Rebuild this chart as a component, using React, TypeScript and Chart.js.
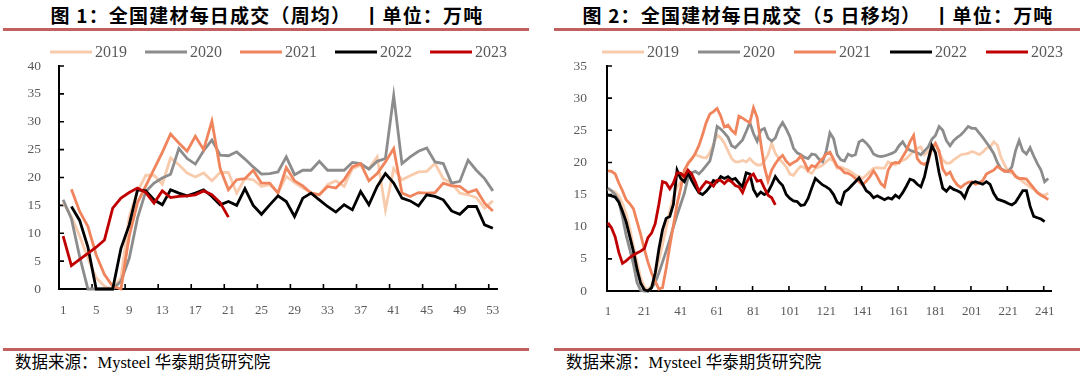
import React, { useEffect, useRef } from 'react';
import { Chart, registerables } from 'chart.js';

Chart.register(...registerables);

// ---------- shared ----------
const YEARS = ['2019', '2020', '2021', '2022', '2023'];
const COLORS = ['#f8cbad', '#8c8c8c', '#f0845c', '#000000', '#c00000'];

// ---------- Figure 1: weekly average (weeks 1..53) ----------
const WEEK_2019 = [15.5, 13.0, 9.5, 5.5, 2.0, 0.5, 0, 2.0, 13.0, 17.5, 20.4, 20.4, 18.8, 23.5, 22.3, 20.8, 20.1, 20.8, 19.4, 20.9, 20.9, 17.2, 19.8, 19.6, 18.4, 18.7, 17.3, 20.2, 19.1, 18.1, 17.3, 16.9, 18.7, 19.4, 18.4, 21.6, 22.2, 21.6, 23.7, 14.2, 21.6, 19.6, 20.3, 21.0, 21.1, 22.5, 19.8, 19.0, 17.2, 16.9, 16.4, 14.5, 15.8];
const WEEK_2020 = [16.0, 12.6, 5.8, 0, 0, 0, 0, 1.4, 5.5, 12.7, 17.5, 19.0, 19.9, 20.6, 25.2, 23.4, 22.4, 24.8, 26.7, 24.0, 23.9, 24.6, 23.3, 21.9, 20.6, 20.7, 21.0, 23.7, 20.5, 21.3, 21.3, 22.9, 21.3, 21.3, 21.3, 22.7, 22.5, 21.5, 22.9, 23.4, 34.7, 22.5, 23.7, 24.7, 25.3, 22.8, 22.5, 19.0, 19.3, 23.1, 21.3, 19.8, 17.6];
const WEEK_2021 = [null, 17.9, 13.9, 11.2, 6.1, 2.6, 0.5, 0, 9.5, 15.5, 18.5, 21.5, 24.5, 27.8, 26.2, 24.7, 27.4, 25.0, 30.1, 21.6, 17.8, 19.6, 19.8, 21.3, 19.0, 19.0, 17.2, 21.8, 19.4, 18.5, 17.2, 16.9, 18.4, 18.1, 19.6, 21.9, 22.5, 19.4, 20.7, 22.8, 25.2, 17.2, 16.6, 17.3, 17.2, 17.3, 19.0, 18.5, 18.4, 17.3, 17.8, 15.4, 14.0];
const WEEK_2022 = [null, 14.8, 12.3, 7.5, 0, 0, 0, 7.3, 11.5, 17.8, 17.6, 16.0, 15.1, 17.8, 17.2, 16.7, 17.2, 17.8, 16.6, 15.1, 15.7, 15.0, 18.0, 15.0, 13.4, 15.1, 16.7, 15.7, 13.0, 16.3, 17.2, 16.0, 14.8, 13.8, 15.1, 14.2, 17.5, 15.1, 18.4, 20.7, 19.0, 16.3, 15.8, 14.9, 16.9, 16.6, 16.0, 14.0, 13.4, 14.8, 14.8, 11.5, 10.9];
const WEEK_2023 = [9.5, 4.2, 5.3, 6.4, 7.5, 8.8, 14.5, 16.3, 17.3, 18.1, 17.3, 15.4, 17.6, 16.4, 16.6, 16.7, 16.9, 17.6, 16.9, 15.5, 12.9];
const WEEK_TICK_LABELS = [1, 5, 9, 13, 17, 21, 25, 29, 33, 37, 41, 45, 49, 53];
const WEEK_Y_TICKS = [0, 5, 10, 15, 20, 25, 30, 35, 40];

// ---------- Figure 2: 5-day moving average (read every 2nd day, day 1, 3, 5, ...) ----------
const DAY_2019 = [
  15.8, 15.6, 15.4, 14.8, 13.6, 12.0, 9.8, 7.0, 4.5, 2.0,
  0.6, 0.2, 0.8, 2.5, 4.8, 7.2, 9.8, 12.4, 14.6, 16.2,
  17.0, 18.4, 20.0, 20.6, 21.2, 21.0, 20.8, 20.7, 21.5, 22.8,
  24.3, 23.8, 23.0, 21.8, 20.6, 20.1, 20.1, 20.3, 20.1, 20.6,
  20.0, 19.6, 19.6, 20.2, 21.2, 23.0, 21.4, 20.6, 20.0, 19.3,
  18.2, 18.0, 18.8, 19.4, 19.2, 18.6, 18.3, 19.1, 19.3, 19.6,
  20.1, 20.6, 20.2, 19.1, 19.3, 19.0, 18.8, 18.5, 18.0, 17.8,
  17.5, 18.0, 18.6, 19.1, 19.2, 19.1, 19.1, 20.1, 19.8, 19.6,
  20.1, 20.3, 20.6, 21.2, 21.7, 22.2, 22.4, 21.2, 21.7, 22.2,
  22.7, 21.5, 20.4, 19.9, 19.9, 20.4, 20.8, 21.2, 21.3, 21.4,
  21.7, 21.5, 21.2, 21.6, 22.2, 22.4, 23.2, 22.7, 20.8, 19.6,
  18.6, 18.3, 18.0, 17.5, 17.0, 16.6, 16.2, 15.8, 15.4, 15.0,
  14.9, 15.2,
];
const DAY_2020 = [
  16.0, 15.6, 15.0, 14.0, 11.5, 8.7, 6.5, 4.2, 1.3, 0.1,
  0, 0, 0.5, 1.3, 2.8, 4.5, 6.2, 8.0, 10.0, 11.8,
  13.5, 15.2, 17.6, 18.4, 18.6, 18.2, 18.8, 19.5, 20.2, 22.5,
  25.6, 25.2, 24.6, 23.9, 22.6, 22.3, 22.9, 23.5, 24.8, 26.2,
  24.5, 23.3, 25.0, 25.3, 23.8, 23.3, 23.8, 25.3, 26.2, 25.2,
  24.0, 22.2, 21.5, 21.2, 20.8, 20.6, 21.3, 21.2, 20.5, 20.1,
  21.8, 24.6, 23.7, 21.2, 20.4, 20.2, 21.3, 21.0, 21.2, 23.2,
  23.5, 23.0, 22.3, 21.3, 21.0, 20.9, 21.0, 21.2, 21.4, 21.7,
  22.6, 23.2, 22.3, 21.9, 21.7, 21.5, 21.2, 21.8, 22.4, 23.6,
  24.2, 25.6, 25.0, 23.4, 22.6, 23.4, 23.9, 24.3, 24.9, 25.6,
  25.3, 25.3, 24.6, 23.9, 23.1, 22.3, 21.4, 20.0, 19.0, 18.7,
  18.6, 19.3, 21.8, 23.4, 21.8, 21.3, 22.3, 21.0, 19.8, 18.8,
  17.0, 17.5,
];
const DAY_2021 = [
  18.7, 18.6, 18.2, 16.8, 15.6, 14.2, 13.6, 12.8, 10.8, 8.8,
  6.5, 4.5, 2.8, 1.5, 0.3, 0.5, 3.5, 7.0, 10.2, 13.5,
  16.0, 18.8, 19.8, 20.5, 21.4, 22.6, 24.3, 26.2, 27.5, 27.9,
  28.4, 27.2, 25.5, 25.8, 25.0, 24.5, 27.2, 26.9, 26.5, 26.2,
  28.5, 27.0, 23.0, 19.3, 17.1, 18.8, 19.8, 20.6, 21.1, 20.2,
  19.6, 20.0, 20.3, 21.0, 20.0, 18.8, 19.5, 19.3, 20.0, 20.6,
  21.3, 21.6, 20.5, 19.4, 19.0, 18.4, 18.3, 18.0, 17.5, 17.0,
  16.5, 17.1, 17.8, 18.7, 17.8, 16.7, 16.2, 18.8, 19.8, 20.0,
  19.9, 20.9, 21.8, 23.2, 24.2, 20.6, 19.9, 19.7, 20.1, 22.2,
  23.0, 21.8, 19.0, 18.1, 18.5, 17.3, 16.5, 16.1, 16.6, 16.9,
  17.0, 16.6, 16.8, 17.2, 18.2, 18.5, 18.8, 19.4, 19.0, 18.6,
  18.7, 18.7, 17.8, 17.5, 17.5, 17.4, 16.7, 16.0, 15.3, 14.9,
  14.6, 14.2,
];
const DAY_2022 = [
  14.9, 14.8, 14.6, 13.8, 12.4, 10.8, 8.5, 6.2, 3.4, 1.2,
  0.2, 0, 0.5, 2.8, 6.5, 9.5, 11.3, 11.6, 13.5, 18.8,
  17.5, 17.0, 18.4, 17.2, 16.2, 15.3, 15.0, 15.5, 16.2, 17.2,
  17.0, 17.8, 17.5, 17.8, 17.3, 17.5, 16.8, 16.2, 18.4, 18.2,
  15.8, 14.8, 15.4, 15.0, 15.4, 16.5, 17.8, 17.0, 16.4, 15.0,
  14.4, 14.0, 13.9, 13.3, 13.4, 14.4, 16.0, 17.5, 17.0, 16.5,
  16.2, 15.8, 15.0, 13.8, 13.5, 15.4, 15.8, 16.4, 17.0, 17.6,
  16.6, 15.6, 15.2, 14.5, 14.8, 14.5, 14.2, 14.5, 14.3, 14.9,
  14.5, 15.3, 16.3, 17.4, 17.2, 16.6, 16.2, 17.8, 20.4, 22.6,
  21.5, 18.4, 16.0, 15.5, 16.2, 15.8, 15.6, 15.3, 14.5, 16.0,
  16.8, 17.0, 16.8, 16.6, 17.0, 16.6, 15.2, 14.3, 14.1, 13.9,
  13.6, 13.4, 13.8, 14.7, 15.6, 15.6, 13.2, 11.6, 11.4, 11.2,
  10.8,
];
const DAY_2023 = [
  10.6, 9.8, 8.4, 6.0, 4.3, 4.7, 5.2, 5.6, 5.9, 6.2,
  6.6, 8.3, 9.0, 10.5, 13.5, 17.0, 16.8, 15.9, 16.8, 18.4,
  18.3, 17.8, 18.8, 18.2, 17.0, 15.5, 16.3, 17.0, 16.8, 16.3,
  17.2, 17.2, 16.7, 17.3, 17.0, 16.4, 16.2, 15.3, 16.8, 17.8,
  18.2, 17.1, 17.2, 16.0, 14.9, 14.5, 13.4,
];
const DAY_TICK_LABELS = [1, 21, 41, 61, 81, 101, 121, 141, 161, 181, 201, 221, 241];
const DAY_Y_TICKS = [0, 5, 10, 15, 20, 25, 30, 35];

// ---------- styling ----------
const SERIF = "'Liberation Serif', 'Times New Roman', serif";
const TICK_COLOR = '#5a5a5a';
const RULE_COLOR = '#c0605f';

// tick marks pointing into the plot, as in the original
const innerTicks = {
  id: 'innerTicks',
  beforeDatasetsDraw(chart: any, _args: any, opts: any) {
    const { ctx, chartArea: ca, scales } = chart;
    ctx.save();
    ctx.beginPath();
    ctx.strokeStyle = '#000';
    ctx.lineWidth = 1.6;
    (opts.xMarks || []).forEach((v: number) => {
      const p = scales.x.getPixelForValue(v);
      ctx.moveTo(p, ca.bottom);
      ctx.lineTo(p, ca.bottom - 5);
    });
    (opts.yMarks || []).forEach((v: number) => {
      const p = scales.y.getPixelForValue(v);
      ctx.moveTo(ca.left, p);
      ctx.lineTo(ca.left + 5, p);
    });
    ctx.stroke();
    ctx.restore();
  },
};

// legend row: short line sample followed by the year, drawn on the chart canvas
const lineLegend = {
  id: 'lineLegend',
  afterDraw(chart: any, _args: any, o: any) {
    const ctx = chart.ctx;
    ctx.save();
    ctx.font = `${o.size}px ${SERIF}`;
    ctx.textBaseline = 'middle';
    ctx.textAlign = 'left';
    chart.data.datasets.forEach((ds: any, i: number) => {
      const x = o.x + i * o.pitch;
      ctx.fillStyle = ds.borderColor;
      ctx.fillRect(x, o.y - 1.5, o.boxW, 3);
      ctx.fillStyle = o.color;
      ctx.fillText(ds.label, x + o.boxW + o.gap, o.y + 0.5);
    });
    ctx.restore();
  },
};

type ChartProps = {
  series: (number | null)[][];
  step: number;
  xMin: number;
  xMax: number;
  xLabels: number[];
  yMax: number;
  yTicks: number[];
  left: number;
  top: number;
  width: number;
  height: number;
  padTop: number;
  padRight: number;
  yWidth: number;
  xHeight: number;
  yPad: number;
  xPad: number;
  legendX: number;
  legendPitch: number;
};

function YearChart(p: ChartProps) {
  const ref = useRef<HTMLCanvasElement | null>(null);
  useEffect(() => {
    const datasets = p.series.map((vals, i) => ({
      label: YEARS[i],
      data: vals.map((v, j) => ({ x: 1 + j * p.step, y: v })),
      borderColor: COLORS[i],
      backgroundColor: COLORS[i],
      borderWidth: 2.8,
      pointRadius: 0,
      tension: 0,
      order: p.series.length - i,
      clip: 6,
      spanGaps: false,
    }));
    const chart = new Chart(ref.current as HTMLCanvasElement, {
      type: 'line',
      data: { datasets } as any,
      plugins: [innerTicks as any, lineLegend as any],
      options: {
        responsive: false,
        animation: false,
        events: [],
        layout: { padding: { top: p.padTop, right: p.padRight, left: 0, bottom: 0 } },
        plugins: {
          legend: { display: false },
          tooltip: { enabled: false },
          lineLegend: {
            x: p.legendX,
            y: 52 - p.top,
            pitch: p.legendPitch,
            boxW: 42,
            gap: 3,
            size: 16,
            color: TICK_COLOR,
          },
          innerTicks: {
            xMarks: p.xLabels.map((v) => v - 0.5),
            yMarks: p.yTicks.filter((v) => v > 0),
          },
        } as any,
        scales: {
          x: {
            type: 'linear',
            min: p.xMin,
            max: p.xMax,
            afterBuildTicks: (s: any) => {
              s.ticks = p.xLabels.map((v) => ({ value: v }));
            },
            afterFit: (s: any) => {
              s.height = p.xHeight;
            },
            ticks: {
              autoSkip: false,
              maxRotation: 0,
              color: TICK_COLOR,
              font: { family: SERIF, size: 13 },
              padding: p.xPad,
              callback: (v: any) => String(v),
            },
            grid: { display: false, drawTicks: false },
            border: { display: true, color: '#000', width: 2 },
          },
          y: {
            type: 'linear',
            min: 0,
            max: p.yMax,
            afterBuildTicks: (s: any) => {
              s.ticks = p.yTicks.map((v) => ({ value: v }));
            },
            afterFit: (s: any) => {
              s.width = p.yWidth;
            },
            ticks: {
              color: TICK_COLOR,
              font: { family: SERIF, size: 13.5 },
              padding: p.yPad,
              callback: (v: any) => String(v),
            },
            grid: { display: false, drawTicks: false },
            border: { display: true, color: '#000', width: 2 },
          },
        } as any,
      },
    });
    return () => chart.destroy();
  }, []);
  return (
    <canvas
      ref={ref}
      width={p.width}
      height={p.height}
      style={{ position: 'absolute', left: p.left, top: p.top, width: p.width, height: p.height }}
    />
  );
}

const titleStyle = (left: number, width: number): React.CSSProperties => ({
  position: 'absolute',
  left,
  top: 4,
  width,
  textAlign: 'center',
  fontFamily: "'Noto Sans CJK SC', sans-serif",
  fontWeight: 700,
  fontSize: 19,
  lineHeight: '22px',
  letterSpacing: 1.2,
  whiteSpace: 'pre',
  color: '#000',
});

const rule = (left: number, top: number, width: number): React.CSSProperties => ({
  position: 'absolute',
  left,
  top,
  width,
  height: 3,
  background: RULE_COLOR,
});

const sourceStyle = (left: number): React.CSSProperties => ({
  position: 'absolute',
  left,
  top: 353,
  fontFamily: "'Liberation Serif', 'Noto Sans CJK SC', serif",
  fontSize: 16.5,
  lineHeight: '20px',
  whiteSpace: 'pre',
  color: '#000',
});

export default function App() {
  return (
    <div
      style={{
        position: 'absolute',
        left: 0,
        top: 0,
        width: 1080,
        height: 373,
        overflow: 'hidden',
        background: '#fff',
      }}
    >
      <div style={titleStyle(3, 528)}>图 1：全国建材每日成交（周均）  丨单位：万吨</div>
      <div style={titleStyle(554, 528)}>图 2：全国建材每日成交（5 日移均）  丨单位：万吨</div>
      <div style={rule(3, 28, 526)} />
      <div style={rule(554, 28, 526)} />

      <YearChart
        series={[WEEK_2019, WEEK_2020, WEEK_2021, WEEK_2022, WEEK_2023]}
        step={1}
        xMin={0.5}
        xMax={53.5}
        xLabels={WEEK_TICK_LABELS}
        yMax={40}
        yTicks={WEEK_Y_TICKS}
        left={0}
        top={34}
        width={540}
        height={292}
        padTop={32}
        padRight={43}
        yWidth={59}
        xHeight={37}
        yPad={18}
        xPad={14}
        legendX={50}
        legendPitch={95}
      />
      <YearChart
        series={[DAY_2019, DAY_2020, DAY_2021, DAY_2022, DAY_2023]}
        step={2}
        xMin={0.5}
        xMax={244.5}
        xLabels={DAY_TICK_LABELS}
        yMax={35}
        yTicks={DAY_Y_TICKS}
        left={553}
        top={34}
        width={527}
        height={292}
        padTop={32}
        padRight={29}
        yWidth={54}
        xHeight={35}
        yPad={20}
        xPad={13}
        legendX={49}
        legendPitch={96}
      />

      <div style={rule(3, 348, 526)} />
      <div style={rule(554, 348, 526)} />
      <div style={sourceStyle(15)}>数据来源：Mysteel 华泰期货研究院</div>
      <div style={sourceStyle(566)}>数据来源：Mysteel 华泰期货研究院</div>
    </div>
  );
}
